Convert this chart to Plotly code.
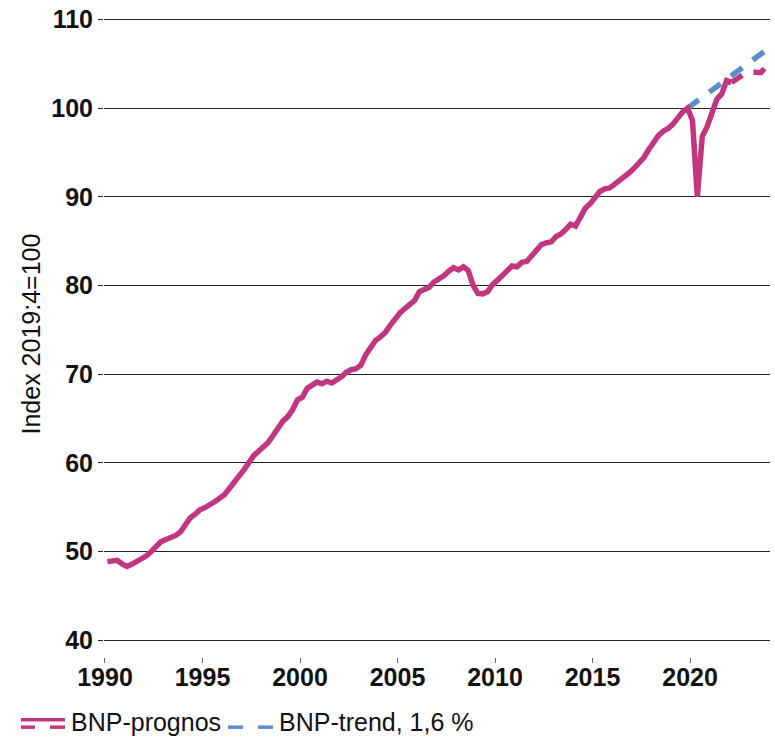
import plotly.graph_objects as go

# Quarterly BNP index (2019:4=100), 1990Q1 .. 2022Q1 (outcome)
years_start = 1990
bnp = [
    48.85, 49.0, 49.0, 48.6,   # 1990
    48.3, 48.55, 48.85, 49.1,  # 1991
    49.5, 50.0, 50.6, 51.1,    # 1992
    51.35, 51.55, 51.8, 52.2,  # 1993
    53.0, 53.8, 54.2, 54.7,    # 1994
    54.95, 55.2, 55.6, 56.0,   # 1995
    56.4, 57.1, 57.9, 58.5,    # 1996
    59.2, 60.1, 60.8, 61.3,    # 1997
    61.8, 62.3, 63.1, 64.0,    # 1998
    64.7, 65.2, 66.0, 67.1,    # 1999
    67.4, 68.4, 68.7, 69.1,    # 2000
    68.9, 69.2, 69.0, 69.3,    # 2001
    69.7, 70.2, 70.5, 70.6,    # 2002
    71.0, 72.2, 73.1, 73.8,    # 2003
    74.2, 74.7, 75.5, 76.3,    # 2004
    76.9, 77.4, 77.9, 78.3,    # 2005
    79.3, 79.6, 79.8, 80.4,    # 2006
    80.7, 81.1, 81.6, 82.0,    # 2007
    81.75, 82.1, 81.7, 80.0,   # 2008
    79.1, 79.05, 79.3, 80.1,   # 2009
    80.6, 81.2, 81.8, 82.2,    # 2010
    82.1, 82.6, 82.7, 83.4,    # 2011
    84.1, 84.6, 84.8, 84.9,    # 2012
    85.5, 85.8, 86.3, 86.9,    # 2013
    86.7, 87.6, 88.7, 89.2,    # 2014
    90.0, 90.6, 90.9, 91.0,    # 2015
    91.4, 91.8, 92.2, 92.7,    # 2016
    93.2, 93.8, 94.4, 95.3,    # 2017
    96.1, 96.9, 97.4, 97.7,    # 2018
    98.2, 98.9, 99.6, 100.0,   # 2019
    98.6, 90.0, 96.8, 97.9,    # 2020
    99.3, 101.0, 101.6, 103.1, # 2021
    102.9,                     # 2022Q1
]

# Forecast 2022Q1 .. 2023Q4
prognos = [102.9, 103.3, 103.7, 104.0, 104.1, 104.0, 104.0, 104.6]
prognos_start_index = 128  # 2022Q1

# Trend 1.6 % per year, 2019Q4 .. 2023Q4
trend = [100.0, 100.4, 100.8, 101.2, 101.6, 102.0, 102.4, 102.8, 103.2,
         103.6, 104.0, 104.4, 104.9, 105.3, 105.7, 106.1, 106.5]
trend_start_index = 119  # 2019Q4

x_ticks = [1990, 1995, 2000, 2005, 2010, 2015, 2020]
y_ticks = [40, 50, 60, 70, 80, 90, 100, 110]

legend_labels = ["BNP-prognos", "BNP-trend, 1,6 %"]
y_title = "Index 2019:4=100"

MAGENTA = "#C0367F"
BLUE = "#5B8ECD"
FONT = "Liberation Sans, Arial"


def qx(i):
    return years_start + 0.125 + 0.25 * i


x_bnp = [qx(i) for i in range(len(bnp))]
x_prog = [qx(prognos_start_index + i) for i in range(len(prognos))]
x_trend = [qx(trend_start_index + i) for i in range(len(trend))]

fig = go.Figure()
fig.add_trace(go.Scatter(x=x_trend, y=trend, mode="lines", name=legend_labels[1],
                         line=dict(color=BLUE, width=5.5, dash="14px,13px"),
                         showlegend=False))
fig.add_trace(go.Scatter(x=x_bnp, y=bnp, mode="lines", name="BNP",
                         line=dict(color=MAGENTA, width=5.5), showlegend=False))
fig.add_trace(go.Scatter(x=x_prog, y=prognos, mode="lines", name=legend_labels[0],
                         line=dict(color=MAGENTA, width=5.5, dash="13px,12px"),
                         showlegend=False))

# plot area geometry (pixels)
L, R, T, B = 104, 770, 14, 657
W, H = 775, 738
pw, ph = R - L, B - T


def px(xp):
    return (xp - L) / pw


def py(yp):
    return (B - yp) / ph


shapes = []
# legend icons
shapes.append(dict(type="line", xref="paper", yref="paper", x0=px(21), x1=px(65),
                   y0=py(720), y1=py(720), line=dict(color=MAGENTA, width=3.5)))
for a, b in [(21, 35), (50, 65)]:
    shapes.append(dict(type="line", xref="paper", yref="paper", x0=px(a), x1=px(b),
                       y0=py(727.5), y1=py(727.5), line=dict(color=MAGENTA, width=3.5)))
for a, b in [(228, 243), (258, 273)]:
    shapes.append(dict(type="line", xref="paper", yref="paper", x0=px(a), x1=px(b),
                       y0=py(727.5), y1=py(727.5), line=dict(color=BLUE, width=3.5)))

annotations = [
    dict(text=legend_labels[0], xref="paper", yref="paper", x=px(69), y=py(722),
         xanchor="left", yanchor="middle", showarrow=False,
         font=dict(family=FONT, size=25, color="#111")),
    dict(text=legend_labels[1], xref="paper", yref="paper", x=px(277), y=py(722),
         xanchor="left", yanchor="middle", showarrow=False,
         font=dict(family=FONT, size=25, color="#111")),
    dict(text=y_title, xref="paper", yref="paper", x=px(31), y=py(333),
         xanchor="center", yanchor="middle", showarrow=False, textangle=-90,
         font=dict(family=FONT, size=25, color="#111")),
]

fig.update_layout(
    width=W, height=H,
    margin=dict(l=L, r=W - R, t=T, b=H - B, pad=0),
    plot_bgcolor="white", paper_bgcolor="white",
    showlegend=False,
    shapes=shapes,
    annotations=annotations,
    font=dict(family=FONT, color="#111"),
)
fig.update_xaxes(
    range=[1989.95, 2024.1], tickvals=x_ticks, ticktext=[str(v) for v in x_ticks],
    showgrid=False, zeroline=False, showline=False,
    ticks="outside", ticklen=5, tickcolor="#666", tickwidth=1,
    ticklabelstandoff=-7,
    tickfont=dict(family=FONT, size=25, color="#111", weight="bold"),
)
fig.update_yaxes(
    range=[38.09, 110.28], tickvals=y_ticks, ticktext=[str(v) for v in y_ticks],
    showgrid=True, gridcolor="#222", gridwidth=1.3, zeroline=False, showline=False,
    ticks="outside", ticklen=5, tickcolor="#222", tickwidth=1.3,
    tickfont=dict(family=FONT, size=25, color="#111", weight="bold"),
)

fig.write_html(
    "out.html",
    config={"displayModeBar": False},
    post_script="document.body.style.margin='0';document.body.style.padding='0';",
)
